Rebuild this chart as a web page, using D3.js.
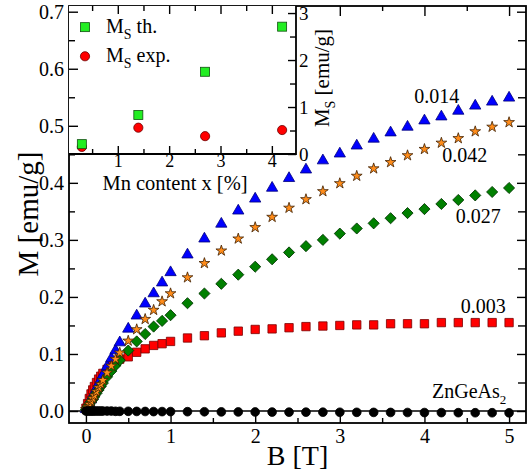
<!DOCTYPE html>
<html><head><meta charset="utf-8">
<script src="https://cdn.jsdelivr.net/npm/d3@7"></script>
<style>
body{margin:0;background:#fff}
svg{display:block}
text{font-family:"Liberation Serif","Times New Roman",serif;fill:#000}
</style>
</head><body>
<svg id="chart" width="532" height="476"></svg>
<script>
// ---------- data ----------
const fieldB = [0, 0.02, 0.04, 0.06, 0.08, 0.1, 0.125, 0.15, 0.175, 0.2, 0.25, 0.3, 0.35, 0.4,
  0.5, 0.6, 0.7, 0.8, 0.9, 1.0, 1.2, 1.4, 1.6, 1.8, 2.0, 2.2, 2.4, 2.6, 2.8, 3.0,
  3.2, 3.4, 3.6, 3.8, 4.0, 4.2, 4.4, 4.6, 4.8, 5.0];
const m014 = [0.003, 0.008, 0.014, 0.020, 0.026, 0.032, 0.040, 0.048, 0.055, 0.063, 0.078, 0.092, 0.106, 0.120,
  0.144, 0.167, 0.188, 0.206, 0.225, 0.243, 0.274, 0.302, 0.328, 0.351, 0.372, 0.391, 0.408, 0.423, 0.439, 0.451,
  0.465, 0.477, 0.488, 0.498, 0.509, 0.516, 0.526, 0.535, 0.542, 0.549];
const m042 = [0.003, 0.007, 0.012, 0.017, 0.022, 0.027, 0.034, 0.041, 0.047, 0.054, 0.067, 0.079, 0.091, 0.102,
  0.123, 0.143, 0.161, 0.177, 0.192, 0.206, 0.234, 0.259, 0.281, 0.302, 0.322, 0.340, 0.356, 0.371, 0.385, 0.399,
  0.412, 0.425, 0.436, 0.448, 0.459, 0.470, 0.478, 0.490, 0.498, 0.506];
const m027 = [0.003, 0.007, 0.011, 0.016, 0.020, 0.025, 0.031, 0.037, 0.043, 0.049, 0.060, 0.070, 0.080, 0.089,
  0.106, 0.122, 0.135, 0.148, 0.158, 0.168, 0.189, 0.206, 0.223, 0.239, 0.253, 0.266, 0.278, 0.289, 0.300, 0.311,
  0.320, 0.329, 0.338, 0.347, 0.354, 0.363, 0.370, 0.378, 0.384, 0.391];
const m003 = [0.005, 0.013, 0.022, 0.030, 0.037, 0.043, 0.050, 0.056, 0.061, 0.066, 0.073, 0.080, 0.086, 0.091,
  0.095, 0.103, 0.109, 0.115, 0.118, 0.122, 0.128, 0.132, 0.137, 0.140, 0.143, 0.144, 0.146, 0.148, 0.149, 0.150,
  0.151, 0.151, 0.153, 0.153, 0.153, 0.155, 0.155, 0.155, 0.155, 0.155];
const mZnGeAs2 = [0, 0, 0, 0, 0, 0, 0, 0, 0, 0, 0, 0, -0.0005, -0.0005,
  -0.0005, -0.0007, -0.0008, -0.001, -0.001, -0.001, -0.0012, -0.0013, -0.0015, -0.0016, -0.0017, -0.0018, -0.002, -0.002, -0.0021, -0.0022,
  -0.0023, -0.0024, -0.0025, -0.0026, -0.0027, -0.0028, -0.0029, -0.003, -0.003, -0.0031];
const seriesNames = ["0.014", "0.042", "0.027", "0.003", "ZnGeAs"];
const xTickValues = [0, 1, 2, 3, 4, 5];
const xMinorValues = [0.5, 1.5, 2.5, 3.5, 4.5];
const yTickValues = [0.0, 0.1, 0.2, 0.3, 0.4, 0.5, 0.6, 0.7];
const yMinorValues = [0.05, 0.15, 0.25, 0.35, 0.45, 0.55, 0.65];
// inset
const mnContent = [0.3, 1.4, 2.7, 4.2];
const msTheory = [0.21, 0.83, 1.75, 2.71];
const msExp = [0.15, 0.56, 0.38, 0.51];
const insetXTicks = [1, 2, 3, 4];
const insetXMinor = [0.5, 1.5, 2.5, 3.5];
const insetYTicks = [0, 1, 2, 3];
const insetYMinor = [0.5, 1.5, 2.5];
const legendNames = ["th.", "exp."];

// ---------- layout ----------
const FONT = '"Liberation Serif","Times New Roman",serif';
const svg = d3.select("#chart");
const L = 69, R = 526, T = 6, B = 423;
const x = d3.scaleLinear().domain([-0.2, 5.2]).range([L, R]);
const y = d3.scaleLinear().domain([-0.021, 0.71]).range([B, T]);
const IR = 296, IB = 154;
const xi = d3.scaleLinear().domain([0.05, 4.47]).range([L, IR]);
const yi = d3.scaleLinear().domain([0, 3.15]).range([IB, T]);

// ---------- main data ----------
const sym = (type, size) => d3.symbol().type(type).size(size)();
const series = [
  {v: m003, fill: "#ff0000", stroke: "#7a0000", path: sym(d3.symbolSquare, 70), rot: 0},
  {v: m014, fill: "#0000ff", stroke: "#00007a", path: sym(d3.symbolTriangle, 55), rot: 0},
  {v: m027, fill: "#008000", stroke: "#003300", path: sym(d3.symbolSquare, 62), rot: 45},
  {v: m042, fill: "#ff8c1a", stroke: "#402000", path: sym(d3.symbolStar, 36), rot: 0},
  {v: mZnGeAs2, fill: "#000000", stroke: "#000000", path: sym(d3.symbolCircle, 60), rot: 0}
];

// zero line
svg.append("line").attr("x1", L).attr("x2", R).attr("y1", y(0)).attr("y2", y(0))
  .attr("stroke", "#000").attr("stroke-width", 1.6);

series.forEach(s => {
  svg.append("g").selectAll("path").data(fieldB).join("path")
    .attr("d", s.path)
    .attr("transform", (b, i) => `translate(${x(b)},${y(s.v[i])}) rotate(${s.rot})`)
    .attr("fill", s.fill).attr("stroke", s.stroke).attr("stroke-width", 0.8);
});

// ---------- main axes ----------
function styleAxis(g) {
  g.attr("font-family", FONT);
  g.select(".domain").remove();
  g.selectAll(".tick line").attr("stroke", "#000").attr("stroke-width", 1.4);
  g.selectAll(".tick text").style("font-family", FONT).style("font-size", "20px").attr("fill", "#000");
}
svg.append("g").attr("transform", `translate(0,${B})`)
  .call(d3.axisBottom(x).tickValues(xTickValues).tickSize(-10).tickPadding(4).tickFormat(d3.format("d")))
  .call(styleAxis).selectAll(".tick text").attr("dy", "0.8em");
svg.append("g").attr("transform", `translate(0,${B})`)
  .call(d3.axisBottom(x).tickValues(xMinorValues).tickSize(-5).tickFormat(""))
  .call(styleAxis);
svg.append("g").attr("transform", `translate(0,${T})`)
  .call(d3.axisTop(x).tickValues(xTickValues.filter(v => x(v) > IR + 2)).tickSize(-10).tickFormat(""))
  .call(styleAxis);
svg.append("g").attr("transform", `translate(0,${T})`)
  .call(d3.axisTop(x).tickValues(xMinorValues.filter(v => x(v) > IR + 2)).tickSize(-5).tickFormat(""))
  .call(styleAxis);
svg.append("g").attr("transform", `translate(${L},0)`)
  .call(d3.axisLeft(y).tickValues(yTickValues).tickSize(-9).tickPadding(5).tickFormat(d3.format(".1f")))
  .call(styleAxis);
svg.append("g").attr("transform", `translate(${L},0)`)
  .call(d3.axisLeft(y).tickValues(yMinorValues).tickSize(-6).tickFormat(""))
  .call(styleAxis);
svg.append("g").attr("transform", `translate(${R},0)`)
  .call(d3.axisRight(y).tickValues(yTickValues).tickSize(-9).tickFormat(""))
  .call(styleAxis);
svg.append("g").attr("transform", `translate(${R},0)`)
  .call(d3.axisRight(y).tickValues(yMinorValues).tickSize(-8).tickFormat(""))
  .call(styleAxis);

svg.append("rect").attr("x", L).attr("y", T).attr("width", R - L).attr("height", B - T)
  .attr("fill", "none").attr("stroke", "#000").attr("stroke-width", 1.8);

// axis titles
svg.append("text").attr("x", (L + R) / 2).attr("y", 465).attr("text-anchor", "middle")
  .style("font-size", "28px").text("B [T]");
svg.append("text").attr("transform", "translate(38,214) rotate(-90)").attr("text-anchor", "middle")
  .style("font-size", "29px").text("M [emu/g]");

// series labels
const labelPos = [[3.88, 0.540], [4.21, 0.4365], [4.37, 0.3296], [4.43, 0.1718], [4.09, 0.0228]];
seriesNames.forEach((n, i) => {
  const t = svg.append("text").attr("x", x(labelPos[i][0])).attr("y", y(labelPos[i][1]))
    .style("font-size", "20px").text(n);
  if (i === 4) t.append("tspan").attr("dy", 6).style("font-size", "13px").text("2");
});

// ---------- inset ----------
const inset = svg.append("g");
inset.append("rect").attr("x", L).attr("y", T).attr("width", IR - L).attr("height", IB - T).attr("fill", "#fff");

inset.append("g").selectAll("circle").data(mnContent).join("circle")
  .attr("cx", (d) => xi(d)).attr("cy", (d, i) => yi(msExp[i])).attr("r", 4.6)
  .attr("fill", "#ff0000").attr("stroke", "#6a0000").attr("stroke-width", 0.8);
inset.append("g").selectAll("rect").data(mnContent).join("rect")
  .attr("x", (d) => xi(d) - 4.5).attr("y", (d, i) => yi(msTheory[i]) - 4.5)
  .attr("width", 9).attr("height", 9).attr("fill", "#22ee22").attr("stroke", "#105010").attr("stroke-width", 0.8);

inset.append("g").attr("transform", `translate(0,${IB})`)
  .call(d3.axisBottom(xi).tickValues(insetXTicks).tickSize(-8).tickPadding(2).tickFormat(d3.format("d")))
  .call(styleAxis).selectAll(".tick text").style("font-size", "18px").attr("dy", "0.6em");
inset.append("g").attr("transform", `translate(0,${IB})`)
  .call(d3.axisBottom(xi).tickValues(insetXMinor).tickSize(-5).tickFormat(""))
  .call(styleAxis);
inset.append("g").attr("transform", `translate(0,${T})`)
  .call(d3.axisTop(xi).tickValues(insetXTicks).tickSize(-8).tickFormat(""))
  .call(styleAxis);
inset.append("g").attr("transform", `translate(0,${T})`)
  .call(d3.axisTop(xi).tickValues(insetXMinor).tickSize(-5).tickFormat(""))
  .call(styleAxis);
inset.append("g").attr("transform", `translate(${IR},0)`)
  .call(d3.axisRight(yi).tickValues(insetYTicks).tickSize(-8).tickPadding(3).tickFormat(d3.format("d")))
  .call(styleAxis).selectAll(".tick text").style("font-size", "19px").attr("x", 3);
inset.append("g").attr("transform", `translate(${IR},0)`)
  .call(d3.axisRight(yi).tickValues(insetYMinor).tickSize(-6).tickFormat(""))
  .call(styleAxis);
// main left ticks visible inside inset
svg.append("g").attr("transform", `translate(${L},0)`)
  .call(d3.axisLeft(y).tickValues(yTickValues.filter(v => y(v) < IB)).tickSize(-9).tickFormat(""))
  .call(styleAxis);
svg.append("g").attr("transform", `translate(${L},0)`)
  .call(d3.axisLeft(y).tickValues(yMinorValues.filter(v => y(v) < IB)).tickSize(-6).tickFormat(""))
  .call(styleAxis);

inset.append("path").attr("d", `M${L},${IB}H${IR}V${T}`).attr("fill", "none")
  .attr("stroke", "#000").attr("stroke-width", 1.8);

inset.append("text").attr("x", 175).attr("y", 189.5).attr("text-anchor", "middle")
  .style("font-size", "20.5px").text("Mn content x [%]");
const ylab = inset.append("text").attr("transform", "translate(329,78) rotate(-90)").attr("text-anchor", "middle")
  .style("font-size", "21px");
ylab.append("tspan").text("M");
ylab.append("tspan").attr("dy", 6).style("font-size", "14px").text("S");
ylab.append("tspan").attr("dy", -6).text(" [emu/g]");

// inset legend
const legY = [2.70, 2.08];
legendNames.forEach((n, i) => {
  const ly = yi(legY[i]);
  if (i === 0) {
    inset.append("rect").attr("x", 85 - 4.5).attr("y", ly - 4.5).attr("width", 9).attr("height", 9)
      .attr("fill", "#22ee22").attr("stroke", "#105010").attr("stroke-width", 0.8);
  } else {
    inset.append("circle").attr("cx", 85).attr("cy", ly).attr("r", 4.6)
      .attr("fill", "#ff0000").attr("stroke", "#6a0000").attr("stroke-width", 0.8);
  }
  const t = inset.append("text").attr("x", 106).attr("y", ly + 6).style("font-size", "20px");
  t.append("tspan").text("M");
  t.append("tspan").attr("dy", 6).style("font-size", "14px").text("S");
  t.append("tspan").attr("dy", -6).text(" " + n);
});
</script>
</body></html>
